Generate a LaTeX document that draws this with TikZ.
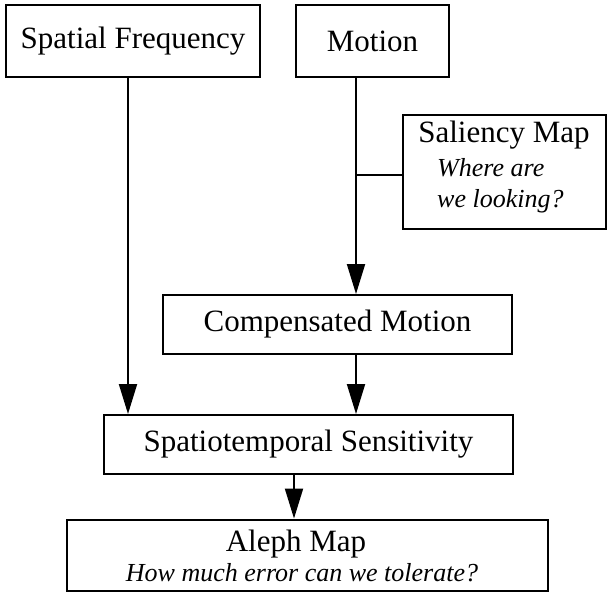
\documentclass[tikz,border=0pt]{standalone}
\usepackage{fontspec}
\setmainfont{Liberation Serif}
\usetikzlibrary{arrows.meta}
\begin{document}
\begin{tikzpicture}[x=1pt,y=-1pt,
  box/.style={draw,line width=2pt,inner sep=0pt,anchor=center},
  big/.style={font=\fontsize{31}{36}\selectfont},
  ital/.style={font=\fontsize{26}{30}\selectfont\itshape},
  txt/.style={inner sep=0pt,anchor=center},
  conn/.style={line width=2pt},
  arr/.style={line width=2pt,-{Triangle[width=18pt,length=30pt]}}]
\useasboundingbox (0,0) rectangle (607,592);
\node[box,big,minimum width=254pt,minimum height=72pt] (sf) at (133,41) {Spatial Frequency};
\node[box,big,minimum width=153pt,minimum height=72pt] (mo) at (372.5,41) {Motion};
\node[box,minimum width=203pt,minimum height=114pt] (sal) at (504.5,172) {};
\node[txt,big] (salt) at (504,135) {Saliency Map};
\node[txt,ital,anchor=west] (salw) at (437,168) {Where are};
\node[txt,ital,anchor=west] (sall) at (437,201) {we looking?};
\node[box,big,minimum width=349pt,minimum height=59pt] (cm) at (337.5,324.5) {Compensated Motion};
\node[box,big,minimum width=409pt,minimum height=59pt] (st) at (308.5,444.5) {Spatiotemporal Sensitivity};
\node[box,minimum width=481pt,minimum height=71pt] (al) at (307.5,555) {};
\node[txt,big] (alt) at (296,544) {Aleph Map};
\node[txt,ital] (alq) at (302,573) {How much error can we tolerate?};
\coordinate (xs) at (128,0);
\coordinate (xm) at (356,0);
\coordinate (xa) at (294,0);
\coordinate (yj) at (0,175);
\draw[arr] (sf.south -| xs) -- (st.north -| xs);
\draw[arr] (mo.south -| xm) -- (cm.north -| xm);
\draw[conn] (sal.west |- yj) -- (xm |- yj);
\draw[arr] (cm.south -| xm) -- (st.north -| xm);
\draw[arr] (st.south -| xa) -- (al.north -| xa);
\end{tikzpicture}
\end{document}
